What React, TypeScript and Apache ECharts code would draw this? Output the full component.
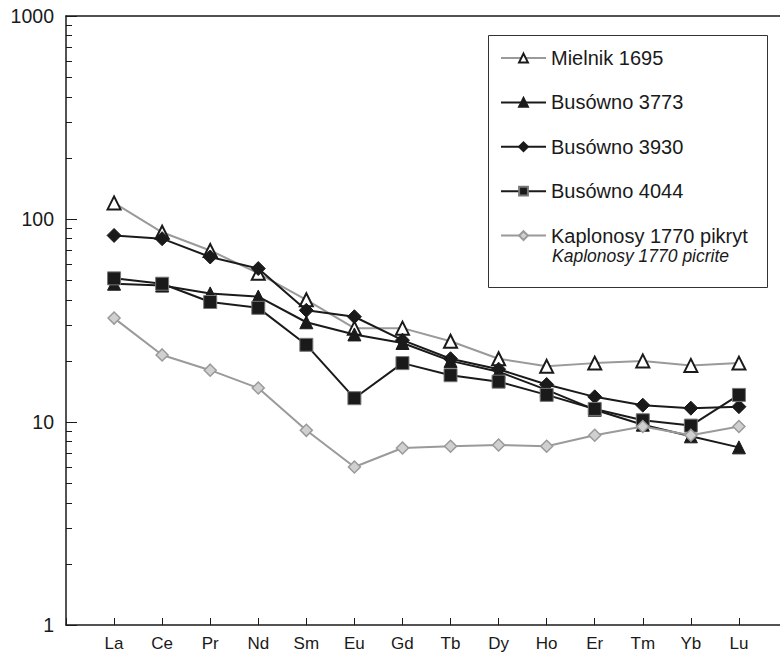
import React, { useEffect, useRef } from "react";
import * as echarts from "echarts";

// Rare earth elements, chondrite-normalised
const elements = ["La", "Ce", "Pr", "Nd", "Sm", "Eu", "Gd", "Tb", "Dy", "Ho", "Er", "Tm", "Yb", "Lu"];

const mielnik1695 = [120, 86, 70, 54, 40, 29, 29, 25, 20.5, 18.8, 19.5, 20, 19, 19.5];
const busowno3773 = [48, 47, 43, 41.5, 31, 27, 24.5, 20, 17.7, 14.4, 11.5, 9.7, 8.5, 7.5];
const busowno3930 = [83, 80, 65, 57, 35.5, 33, 25.3, 20.5, 18.2, 15.3, 13.3, 12.1, 11.7, 11.9];
const busowno4044 = [51, 48, 39, 36.5, 24, 13.1, 19.5, 17, 15.8, 13.6, 11.6, 10.2, 9.6, 13.6];
const kaplonosy1770 = [32.5, 21.4, 18, 14.7, 9.1, 6.0, 7.45, 7.6, 7.7, 7.6, 8.6, 9.5, 8.6, 9.5];

const yTicks = [1, 10, 100, 1000];

const FONT = "'Liberation Sans', Arial, sans-serif";
const NARROW = "'Liberation Sans Narrow', 'Liberation Sans', Arial, sans-serif";

// category axis padded by one empty slot on each side
const cats = ["", ...elements, ""];
const pad = (v: number[]) => [null, ...v, null];

export default function App() {
  const ref = useRef<HTMLDivElement>(null);

  useEffect(() => {
    document.body.style.margin = "0";
    const chart = echarts.init(ref.current!, null, { renderer: "svg" });

    const dark = "#1a1a1a";
    const grey = "#9a9a9a";

    chart.setOption({
      animation: false,
      backgroundColor: "#fff",
      grid: { left: 66, right: 0, top: 16, bottom: 30 },
      xAxis: [
        {
          type: "category",
          data: cats,
          boundaryGap: false,
          axisLine: { lineStyle: { color: dark, width: 1.5 } },
          axisTick: { inside: true, length: 7, lineStyle: { color: dark, width: 1 } },
          axisLabel: { color: dark, fontSize: 17, fontFamily: NARROW, margin: 10, interval: 0 },
          splitLine: { show: false },
        },
        {
          type: "category",
          data: cats,
          position: "top",
          boundaryGap: false,
          axisLine: { show: true, onZero: false, lineStyle: { color: dark, width: 1.5 } },
          axisTick: { show: false },
          axisLabel: { show: false },
        },
      ],
      yAxis: {
        type: "log",
        logBase: 10,
        min: yTicks[0],
        max: yTicks[yTicks.length - 1],
        axisLine: { show: true, lineStyle: { color: dark, width: 1.5 } },
        axisTick: { show: true, inside: true, length: 11, lineStyle: { color: dark, width: 1 } },
        minorTick: { show: true, splitNumber: 9, length: 6, lineStyle: { color: dark, width: 1 } },
        axisLabel: {
          color: dark,
          fontSize: 19.5,
          fontFamily: FONT,
          margin: 12,
          formatter: (v: number) => (yTicks.includes(Math.round(v)) ? String(Math.round(v)) : ""),
        },
        splitLine: { show: false },
      },
      legend: {
        orient: "vertical",
        left: 500,
        top: 48,
        padding: 0,
        itemWidth: 45,
        itemHeight: 11,
        itemGap: 24.4,
        textStyle: { color: dark, fontSize: 20, fontFamily: FONT, lineHeight: 20 },
      },
      graphic: [
        {
          type: "rect",
          shape: { x: 488.5, y: 35.5, width: 279, height: 252 },
          style: { fill: "none", stroke: "#333", lineWidth: 1 },
          silent: true,
        },
        {
          type: "text",
          x: 552,
          y: 256,
          style: {
            text: "Kaplonosy 1770 picrite",
            fill: dark,
            font: `italic 17.5px ${FONT}`,
            verticalAlign: "middle",
          },
          silent: true,
        },
      ],
      series: [
        {
          name: "Mielnik 1695",
          type: "line",
          data: pad(mielnik1695),
          symbol: "triangle",
          symbolSize: 13,
          lineStyle: { color: grey, width: 2 },
          itemStyle: { color: "#fff", borderColor: dark, borderWidth: 2 },
          z: 2,
        },
        {
          name: "Busówno 3773",
          type: "line",
          data: pad(busowno3773),
          symbol: "triangle",
          symbolSize: 13,
          lineStyle: { color: dark, width: 2 },
          itemStyle: { color: dark, borderColor: dark, borderWidth: 1 },
          z: 3,
        },
        {
          name: "Busówno 3930",
          type: "line",
          data: pad(busowno3930),
          symbol: "diamond",
          symbolSize: 14,
          lineStyle: { color: dark, width: 2 },
          itemStyle: { color: dark, borderColor: dark, borderWidth: 1 },
          z: 4,
        },
        {
          name: "Busówno 4044",
          type: "line",
          data: pad(busowno4044),
          symbol: "rect",
          symbolSize: 13,
          lineStyle: { color: dark, width: 2 },
          itemStyle: { color: dark, borderColor: "#777", borderWidth: 1 },
          z: 5,
        },
        {
          name: "Kaplonosy 1770 pikryt",
          type: "line",
          data: pad(kaplonosy1770),
          symbol: "diamond",
          symbolSize: 12,
          lineStyle: { color: grey, width: 2 },
          itemStyle: { color: "#d0d0d0", borderColor: grey, borderWidth: 1.5 },
          z: 6,
        },
      ],
    });

    return () => chart.dispose();
  }, []);

  // the plot area runs a little past the right edge of the view
  return (
    <div style={{ width: 780, height: 655, overflow: "hidden", position: "relative" }}>
      <div ref={ref} style={{ width: 790, height: 655 }} />
    </div>
  );
}
